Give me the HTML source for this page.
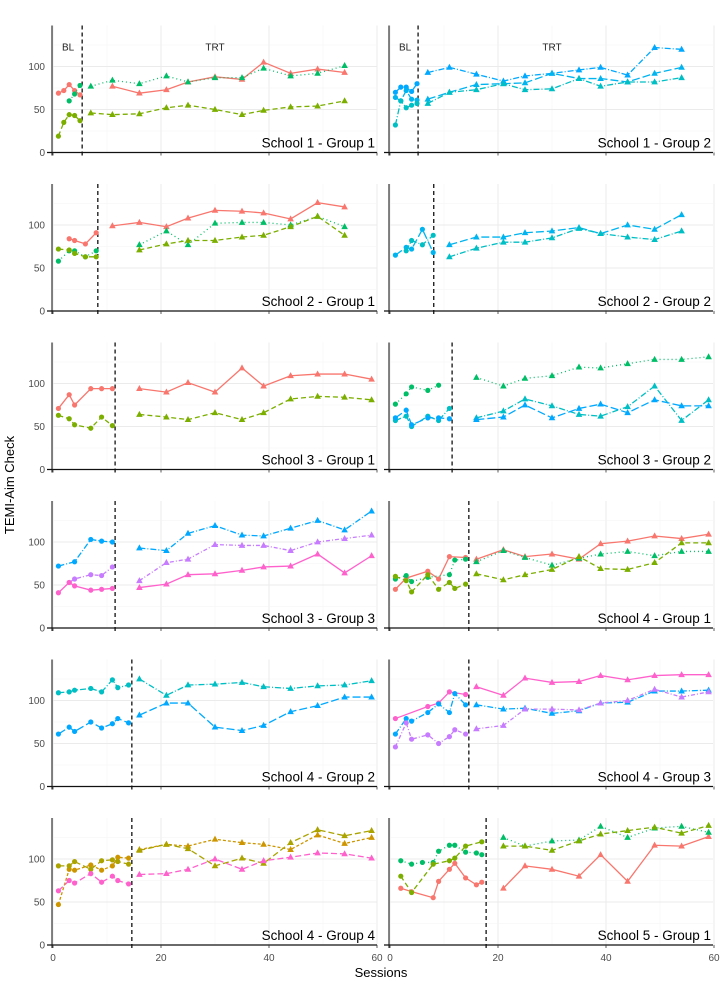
<!DOCTYPE html>
<html><head><meta charset="utf-8">
<style>
html,body{margin:0;padding:0;background:#fff;}
svg{display:block;font-family:"Liberation Sans",sans-serif;}
</style></head>
<body>
<svg id="chart" width="720" height="990" viewBox="0 0 720 990" xmlns="http://www.w3.org/2000/svg">
<text x="14" y="485" transform="rotate(-90 14 485)" text-anchor="middle" font-size="13" fill="#000">TEMI-Aim Check</text>
<text x="381" y="977" text-anchor="middle" font-size="13" fill="#000">Sessions</text>
</svg>
<script>
// ---- session (x) categories ----
const S1_BL = [1,2,3,4,5];
const S1_TRT = [7,11,16,21,25,30,35,39,44,49,54];
const S2_BL = [1,3,4,6,8];
const S2_TRT = [11,16,21,25,30,35,39,44,49,54];
const S3_BL = [1,3,4,7,9,11];
const S3_TRT = [16,21,25,30,35,39,44,49,54,59];
const S4_BL = [1,3,4,7,9,11,12,14];
const S4_TRT = [16,21,25,30,35,39,44,49,54,59];
const S5_BL = [2,4,6,8,9,11,12,14,16,17];
const S5_TRT = [21,25,30,35,39,44,49,54,59];
const phaseChange = [5.4,5.2,8.3,8.1,11.5,11.5,11.5,14.6,14.6,14.6,14.6,17.8];
const panelTitles = ["School 1 - Group 1","School 1 - Group 2","School 2 - Group 1","School 2 - Group 2","School 3 - Group 1","School 3 - Group 2","School 3 - Group 3","School 4 - Group 1","School 4 - Group 2","School 4 - Group 3","School 4 - Group 4","School 5 - Group 1"];
const yTicks = [0,50,100];
const xTicks = [0,20,40,60];
// ---- series values ----
const s1g1_red_bl=[69,72,79,72,67], s1g1_red_trt=[null,77,69,73,82,88,85,105,92,97,93];
const s1g1_grn_bl=[null,null,60,68,78], s1g1_grn_trt=[77,84,80,89,82,87,87,98,89,92,101];
const s1g1_olv_bl=[19,35,44,43,37], s1g1_olv_trt=[46,44,45,52,55,50,44,49,53,54,60];
const s1g2_a_bl=[70,76,76,71,80], s1g2_a_trt=[93,99,91,83,89,92,96,99,90,122,120];
const s1g2_b_bl=[64,60,72,62,61], s1g2_b_trt=[62,70,79,80,81,92,86,86,82,92,99];
const s1g2_c_bl=[32,60,52,55,57], s1g2_c_trt=[57,70,73,80,73,74,86,77,82,82,87];
const s2g1_red_bl=[null,84,82,78,91], s2g1_red_trt=[99,103,98,108,117,116,114,107,126,121];
const s2g1_grn_bl=[58,70,70,63,70], s2g1_grn_trt=[null,77,93,77,102,103,103,100,110,98];
const s2g1_olv_bl=[72,71,67,63,63], s2g1_olv_trt=[null,71,78,82,82,86,88,98,110,88];
const s2g2_blu_bl=[65,74,72,95,68], s2g2_blu_trt=[77,86,86,91,93,97,90,100,95,112];
const s2g2_tea_bl=[null,70,82,77,88], s2g2_tea_trt=[63,73,80,80,85,96,90,86,83,93];
const s3g1_red_bl=[71,87,75,94,94,94], s3g1_red_trt=[94,90,101,90,118,97,109,111,111,105];
const s3g1_olv_bl=[63,59,52,48,61,51], s3g1_olv_trt=[64,61,58,66,58,66,82,85,84,81];
const s3g2_grn_bl=[76,88,96,92,98,null], s3g2_grn_trt=[107,97,106,109,119,118,123,128,128,131];
const s3g2_tea_bl=[57,62,50,62,57,71], s3g2_tea_trt=[60,68,82,74,64,62,73,97,57,81];
const s3g2_blu_bl=[60,69,52,60,60,59], s3g2_blu_trt=[58,61,75,60,71,76,66,81,74,74];
const s3g3_blu_bl=[72,null,77,103,101,100], s3g3_blu_trt=[93,90,110,119,108,107,116,125,114,136];
const s3g3_pur_bl=[null,53,57,62,61,71], s3g3_pur_trt=[55,76,80,97,96,96,90,100,104,108];
const s3g3_pnk_bl=[41,53,49,44,45,46], s3g3_pnk_trt=[47,51,62,63,67,71,72,86,64,84];
const s4g1_red_bl=[45,58,null,66,57,83,null,82], s4g1_red_trt=[80,91,83,86,80,98,101,107,104,109];
const s4g1_grn_bl=[57,61,54,59,null,62,79,80], s4g1_grn_trt=[77,90,82,73,81,86,89,84,89,89];
const s4g1_olv_bl=[60,55,42,62,45,53,46,51], s4g1_olv_trt=[63,56,62,68,83,69,68,76,99,99];
const s4g2_tea_bl=[109,110,112,114,110,124,115,118], s4g2_tea_trt=[125,106,118,119,121,116,114,117,118,123];
const s4g2_blu_bl=[61,69,64,75,68,73,79,74], s4g2_blu_trt=[83,97,97,69,65,71,87,94,104,104];
const s4g3_pnk_bl=[79,null,null,93,97,110,null,107], s4g3_pnk_trt=[116,106,126,121,122,129,124,129,130,130];
const s4g3_blu_bl=[61,79,76,86,96,86,108,95], s4g3_blu_trt=[95,90,91,85,88,97,98,111,111,112];
const s4g3_pur_bl=[46,74,55,60,50,58,66,61], s4g3_pur_trt=[67,71,90,90,89,97,100,113,104,110];
const s4g4_gld_bl=[47,88,87,93,87,92,102,101], s4g4_gld_trt=[111,117,115,123,119,117,111,128,118,125];
const s4g4_ogd_bl=[92,92,97,88,98,99,97,94], s4g4_ogd_trt=[110,117,112,92,101,95,119,134,127,133];
const s4g4_pnk_bl=[63,75,72,83,73,80,75,71], s4g4_pnk_trt=[82,83,88,100,88,98,102,107,106,101];
const s5g1_red_bl=[66,62,null,55,74,88,95,78,70,73], s5g1_red_trt=[66,92,88,80,105,74,116,115,126];
const s5g1_grn_bl=[98,94,96,96,109,116,116,108,107,105], s5g1_grn_trt=[125,115,121,122,138,125,136,138,131];
const s5g1_olv_bl=[80,61,null,94,null,98,101,115,null,120], s5g1_olv_trt=[115,115,110,121,129,133,137,130,139];

const STY = {
  red:{c:"#F8766D",d:""}, olv:{c:"#7CAE00",d:"5,3"}, grn:{c:"#00BE67",d:"1,3"},
  tea:{c:"#00BFC4",d:"6,2,1,2"}, blu:{c:"#00A9FF",d:"8,3"}, blu2:{c:"#00A9FF",d:"6,2,1,2"},
  pur:{c:"#C77CFF",d:"4,2,1,2"}, pnk:{c:"#FF61CC",d:""}, pnk2:{c:"#FF61CC",d:"6,3"},
  gld:{c:"#CD9600",d:"3,2"}, ogd:{c:"#ABA300",d:"6,3"}, b2:{c:"#00B4EF",d:"8,3"}
};
const panels = [
 {bl:S1_BL,trt:S1_TRT,series:[["red",s1g1_red_bl,s1g1_red_trt],["grn",s1g1_grn_bl,s1g1_grn_trt],["olv",s1g1_olv_bl,s1g1_olv_trt]]},
 {bl:S1_BL,trt:S1_TRT,series:[["blu2",s1g2_a_bl,s1g2_a_trt],["b2",s1g2_b_bl,s1g2_b_trt],["tea",s1g2_c_bl,s1g2_c_trt]]},
 {bl:S2_BL,trt:S2_TRT,series:[["red",s2g1_red_bl,s2g1_red_trt],["grn",s2g1_grn_bl,s2g1_grn_trt],["olv",s2g1_olv_bl,s2g1_olv_trt]]},
 {bl:S2_BL,trt:S2_TRT,series:[["b2",s2g2_blu_bl,s2g2_blu_trt],["tea",s2g2_tea_bl,s2g2_tea_trt]]},
 {bl:S3_BL,trt:S3_TRT,series:[["red",s3g1_red_bl,s3g1_red_trt],["olv",s3g1_olv_bl,s3g1_olv_trt]]},
 {bl:S3_BL,trt:S3_TRT,series:[["grn",s3g2_grn_bl,s3g2_grn_trt],["tea",s3g2_tea_bl,s3g2_tea_trt],["blu",s3g2_blu_bl,s3g2_blu_trt]]},
 {bl:S3_BL,trt:S3_TRT,series:[["blu2",s3g3_blu_bl,s3g3_blu_trt],["pur",s3g3_pur_bl,s3g3_pur_trt],["pnk",s3g3_pnk_bl,s3g3_pnk_trt]]},
 {bl:S4_BL,trt:S4_TRT,series:[["red",s4g1_red_bl,s4g1_red_trt],["grn",s4g1_grn_bl,s4g1_grn_trt],["olv",s4g1_olv_bl,s4g1_olv_trt]]},
 {bl:S4_BL,trt:S4_TRT,series:[["tea",s4g2_tea_bl,s4g2_tea_trt],["blu",s4g2_blu_bl,s4g2_blu_trt]]},
 {bl:S4_BL,trt:S4_TRT,series:[["pnk",s4g3_pnk_bl,s4g3_pnk_trt],["blu2",s4g3_blu_bl,s4g3_blu_trt],["pur",s4g3_pur_bl,s4g3_pur_trt]]},
 {bl:S4_BL,trt:S4_TRT,series:[["gld",s4g4_gld_bl,s4g4_gld_trt],["ogd",s4g4_ogd_bl,s4g4_ogd_trt],["pnk2",s4g4_pnk_bl,s4g4_pnk_trt]]},
 {bl:S5_BL,trt:S5_TRT,series:[["red",s5g1_red_bl,s5g1_red_trt],["grn",s5g1_grn_bl,s5g1_grn_trt],["olv",s5g1_olv_bl,s5g1_olv_trt]]}
];

const svg = document.getElementById('chart');
const NS = "http://www.w3.org/2000/svg";
const zeros = [152.5,311,469.5,628,786.5,945];
const PXU = 0.86, PXS = 5.4;
function mk(tag, attrs, parent){ const e=document.createElementNS(NS,tag); for(const k in attrs) e.setAttribute(k,attrs[k]); (parent||svg).appendChild(e); return e; }

panels.forEach((p,i)=>{
  const col=i%2, row=Math.floor(i/2);
  const x0 = col===0?53:390;
  const axisX = col===0?52:389;
  const right = col===0?377:713;
  const zero = zeros[row];
  const xs = s=>x0+PXS*s;
  const ys = v=>zero-PXU*v;
  const top = zero-127;
  const g = mk('g',{});
  
  
  // grid
  for(let s=0;s<=60;s+=10){ const ln=mk('line',{x1:xs(s),x2:xs(s),y1:top,y2:zero,stroke:s%20===0?"#ebebeb":"#f4f4f4","stroke-width":s%20===0?1:0.6},g);   }
  for(let v=0;v<=125;v+=25){ const ln=mk('line',{x1:axisX,x2:right,y1:ys(v),y2:ys(v),stroke:v%50===0?"#ebebeb":"#f4f4f4","stroke-width":v%50===0?1:0.6},g);   }
  // axes
  const ya=mk('line',{x1:axisX,x2:axisX,y1:top,y2:zero+3,stroke:"#222","stroke-width":1.1},g);
   
  const xa=mk('line',{x1:axisX-5,x2:right,y1:zero,y2:zero,stroke:"#111","stroke-width":1.3},g);
   
  xTicks.forEach(t=>{ const tk=mk('line',{x1:xs(t),x2:xs(t),y1:zero,y2:zero+3,stroke:"#333","stroke-width":0.8},g);   });
  if(col===0){ yTicks.forEach(t=>{ const tl=mk('text',{x:45,y:ys(t)+3.5,"text-anchor":"end","font-size":10,fill:"#4d4d4d"},g); tl.textContent=t;   }); }
  if(row===5){ xTicks.forEach(t=>{ const tl=mk('text',{x:xs(t),y:zero+16,"text-anchor":"middle","font-size":10,fill:"#4d4d4d"},g); tl.textContent=t;   }); }
  // phase line
  const ph=mk('line',{x1:xs(phaseChange[i]),x2:xs(phaseChange[i]),y1:top,y2:zero+4,stroke:"#111","stroke-width":1.3,"stroke-dasharray":"4,3"},g);
   
  if(row===0){
    const bl=mk('text',{x:xs(2.8),y:top+25,"text-anchor":"middle","font-size":10,fill:"#222"},g); bl.textContent="BL";
     
    const tr=mk('text',{x:xs(30),y:top+25,"text-anchor":"middle","font-size":10,fill:"#222"},g); tr.textContent="TRT";
     
  }
  // series
  p.series.forEach(([key,blv,trv])=>{
    const st=STY[key];
    [[p.bl,blv,'circle'],[p.trt,trv,'tri']].forEach(([sess,vals,shape])=>{
      const pts=[]; sess.forEach((s,j)=>{ if(vals[j]!=null) pts.push([xs(s),ys(vals[j])]); });
      if(pts.length>1){ const pl=mk('polyline',{points:pts.map(q=>q.join(',')).join(' '),fill:"none",stroke:st.c,"stroke-width":1.3,"stroke-dasharray":st.d},g);
          }
      pts.forEach(([x,y])=>{
        let m;
        if(shape==='circle') m=mk('circle',{cx:x,cy:y,r:2.6,fill:st.c},g);
        else m=mk('polygon',{points:`${x},${y-3.6} ${x-3.3},${y+2.4} ${x+3.3},${y+2.4}`,fill:st.c},g);
        
        
      });
    });
  });
  const title=mk('text',{x:right-2,y:zero-5,"text-anchor":"end","font-size":13.5,fill:"#000"},g);
  title.textContent=panelTitles[i];
   
});
</script>
</body></html>
